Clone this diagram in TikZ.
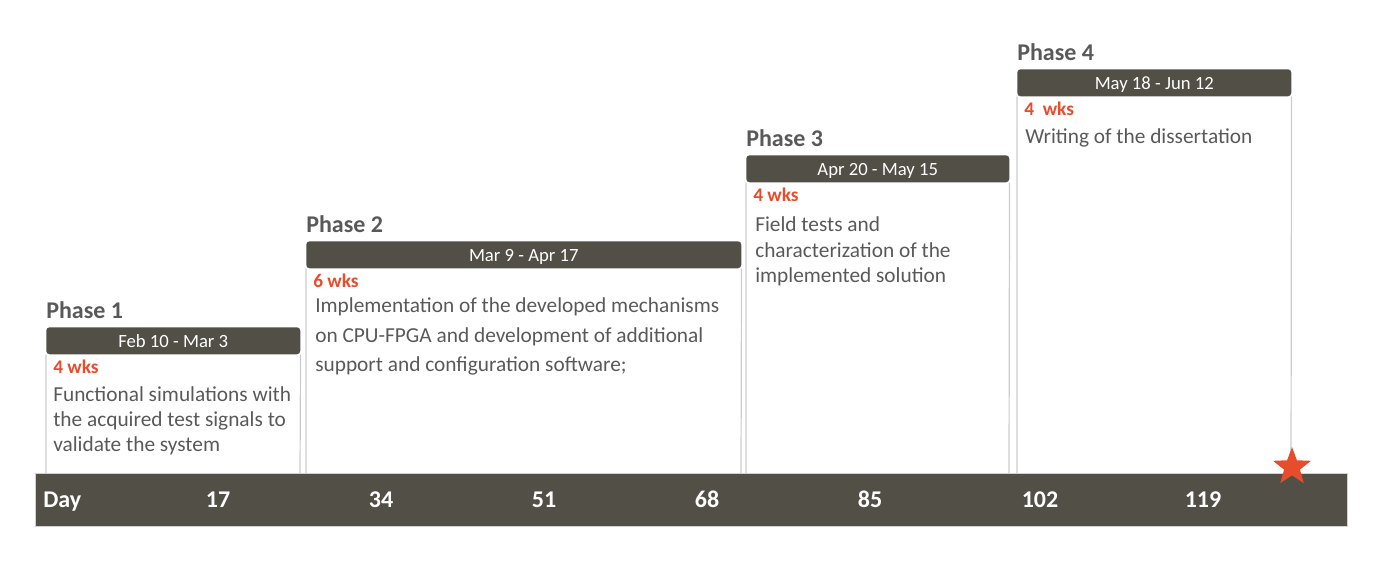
\documentclass[tikz,border=0pt]{standalone}
\usepackage{fontspec}
\setmainfont{Carlito}
\usetikzlibrary{shapes.geometric}
\definecolor{barDark}{RGB}{82,79,70}
\definecolor{wksRed}{RGB}{231,76,44}
\definecolor{txtGray}{RGB}{89,89,89}
\definecolor{sideGray}{RGB}{204,204,204}
\tikzset{
  capmid/.style={inner sep=0pt,text height=1em,text depth=0pt},
  phase title/.style={capmid,anchor=west,text=txtGray,
    font=\fontsize{18}{20}\selectfont\bfseries},
  date bar/.style={capmid,anchor=north west,fill=barDark,rounded corners=2.5pt,
    text=white,font=\fontsize{14}{16}\selectfont},
  wks label/.style={capmid,anchor=west,text=wksRed,font=\fontsize{14.5}{16}\selectfont\bfseries},
  desc line/.style={capmid,anchor=west,text=txtGray,font=\fontsize{16}{18}\selectfont},
  phase side/.style={draw=sideGray,line width=0.9pt},
  axis bar/.style={anchor=north west,fill=barDark,draw=black!18,line width=0.6pt,
    minimum width=984pt,minimum height=39.75pt,inner sep=0pt},
  axis label/.style={capmid,text=white,font=\fontsize{18}{20}\selectfont\bfseries},
  goal star/.style={star,star points=5,star point ratio=2.4,fill=wksRed,
    minimum size=30pt,inner sep=0pt}
}
% name, left x, right x, bar top y, title, dates, weeks
\newcommand{\phasebox}[7]{%
  \node[phase title] (#1t) at (#2,#4-15) {#5};
  \node[date bar,minimum width={(#3-#2)*0.75pt},minimum height=20.25pt] (#1d) at (#2,#4) {#6};
  \coordinate (#1l) at (#2,473);
  \coordinate (#1r) at (#3,473);
  \draw[phase side] (#1d.south west) -- (#1l) (#1d.south east) -- (#1r);
  \node[wks label] (#1w) at (#2+7,#4+40) {#7};
}

\begin{document}
\begin{tikzpicture}[x=0.75pt,y=-0.75pt]
  \useasboundingbox (0,0) rectangle (1386,562);

  \phasebox{pa}{46}{300}{327}{Phase 1}{Feb 10 - Mar 3}{4 wks}
  \node[desc line] (pa1) at (53,395) {Functional simulations with};
  \node[desc line] (pa2) at (53,420) {the acquired test signals to};
  \node[desc line] (pa3) at (53,445) {validate the system};

  \phasebox{pb}{306}{741}{241}{Phase 2}{Mar 9 - Apr 17}{6 wks}
  \node[desc line] (pb1) at (315,306) {Implementation of the developed mechanisms};
  \node[desc line] (pb2) at (315,336) {on CPU-FPGA and development of additional};
  \node[desc line] (pb3) at (315,365) {support and configuration software;};

  \phasebox{pc}{746}{1009}{155}{Phase 3}{Apr 20 - May 15}{4 wks}
  \node[desc line] (pc1) at (755,225) {Field tests and};
  \node[desc line] (pc2) at (755,251) {characterization of the};
  \node[desc line] (pc3) at (755,276) {implemented solution};

  \phasebox{pd}{1017}{1291}{69}{Phase 4}{May 18 - Jun 12}{4~ wks}
  \node[desc line] (pd1) at (1025,137) {Writing of the dissertation};

  % day axis
  \node[axis bar] (axis) at (35,473) {};
  \node[axis label,anchor=west] (day) at (43,501) {Day};
  \foreach \n/\x in {17/218,34/381,51/544,68/707,85/870,102/1040,119/1203}
    \node[axis label] (n\n) at (\x,501) {\n};

  \node[goal star] (goal) at (1292,467) {};
\end{tikzpicture}
\end{document}
